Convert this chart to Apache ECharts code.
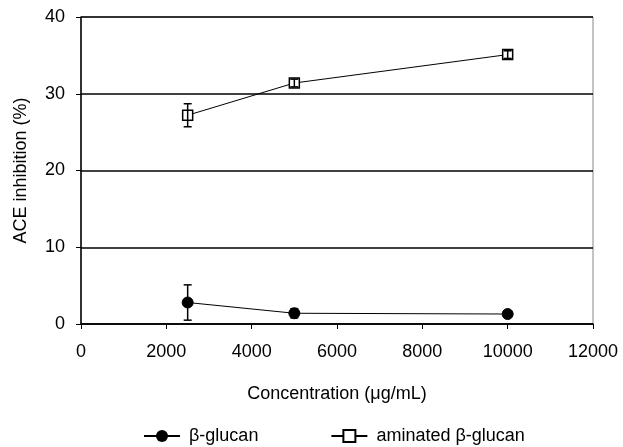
<!DOCTYPE html>
<html>
<head>
<meta charset="utf-8">
<script src="https://cdn.jsdelivr.net/npm/echarts@6/dist/echarts.min.js"></script>
<style>
  html, body { margin: 0; padding: 0; background: #fff; }
  #chart { width: 623px; height: 447px; }
</style>
</head>
<body>
<div id="chart"></div>
<script>
// concentrations (ug/mL)
const concentrations = [2500, 5000, 10000];
// ACE inhibition (%) and error (sd)
const glucanValues = [2.8, 1.4, 1.3];
const glucanErrors = [2.3, 0.6, 0.3];
const aminatedValues = [27.2, 31.4, 35.1];
const aminatedErrors = [1.5, 0.5, 0.5];

const font = '"Liberation Sans", Arial, sans-serif';

function pairs(xs, ys) {
  return xs.map((x, i) => [x, ys[i]]);
}

function errorData(xs, ys, es) {
  return xs.map((x, i) => [x, ys[i] - es[i], ys[i] + es[i]]);
}

function errorBars(params, api) {
  const lo = api.coord([api.value(0), api.value(1)]);
  const hi = api.coord([api.value(0), api.value(2)]);
  const w = 4;
  const style = { stroke: '#000', lineWidth: 1.5 };
  return {
    type: 'group',
    children: [
      { type: 'line', shape: { x1: lo[0], y1: lo[1], x2: hi[0], y2: hi[1] }, style: style },
      { type: 'line', shape: { x1: lo[0] - w, y1: lo[1], x2: lo[0] + w, y2: lo[1] }, style: style },
      { type: 'line', shape: { x1: hi[0] - w, y1: hi[1], x2: hi[0] + w, y2: hi[1] }, style: style }
    ]
  };
}

const chart = echarts.init(document.getElementById('chart'));

chart.setOption({
  animation: false,
  backgroundColor: '#fff',
  textStyle: { fontFamily: font, color: '#000' },
  grid: {
    left: 81, right: 30, top: 17, bottom: 123,
    show: true, borderColor: '#888', borderWidth: 1
  },
  legend: {
    top: 422,
    left: 138,
    itemGap: 72,
    itemWidth: 36,
    itemHeight: 15,
    textStyle: { fontFamily: font, fontSize: 18, color: '#000', padding: [0, 0, 0, 4] },
    data: ['β-glucan', 'aminated β-glucan']
  },
  xAxis: {
    type: 'value',
    min: 0, max: 12000, interval: 2000,
    name: 'Concentration (μg/mL)',
    nameLocation: 'middle',
    nameGap: 61,
    nameTextStyle: { fontFamily: font, fontSize: 18, color: '#000' },
    axisLine: { lineStyle: { color: '#000', width: 1.5 } },
    axisTick: { show: true, length: 5, lineStyle: { color: '#000' } },
    axisLabel: {
      fontFamily: font, fontSize: 18, color: '#000', margin: 19,
      formatter: v => String(v)
    },
    splitLine: { show: false }
  },
  yAxis: {
    type: 'value',
    min: 0, max: 40, interval: 10,
    name: 'ACE inhibition (%)',
    nameLocation: 'middle',
    nameGap: 51,
    nameTextStyle: { fontFamily: font, fontSize: 18, color: '#000' },
    axisLine: { show: true, lineStyle: { color: '#000', width: 1.5 } },
    axisTick: { show: true, length: 5, lineStyle: { color: '#000' } },
    axisLabel: { fontFamily: font, fontSize: 18, color: '#000', margin: 16 },
    splitLine: { show: true, lineStyle: { color: '#000', width: 1.5 } }
  },
  series: [
    {
      name: 'β-glucan',
      type: 'line',
      data: pairs(concentrations, glucanValues),
      symbol: 'circle',
      symbolSize: 11,
      lineStyle: { color: '#000', width: 1 },
      itemStyle: { color: '#000', borderColor: '#000' },
      z: 3
    },
    {
      name: 'aminated β-glucan',
      type: 'line',
      data: pairs(concentrations, aminatedValues),
      symbol: 'rect',
      symbolSize: 10,
      lineStyle: { color: '#000', width: 1 },
      itemStyle: { color: '#fff', borderColor: '#000', borderWidth: 1.5 },
      z: 3
    },
    {
      type: 'custom',
      renderItem: errorBars,
      data: errorData(concentrations, glucanValues, glucanErrors),
      encode: { x: 0, y: [1, 2] },
      z: 2
    },
    {
      type: 'custom',
      renderItem: errorBars,
      data: errorData(concentrations, aminatedValues, aminatedErrors),
      encode: { x: 0, y: [1, 2] },
      z: 4
    }
  ]
});
</script>
</body>
</html>
